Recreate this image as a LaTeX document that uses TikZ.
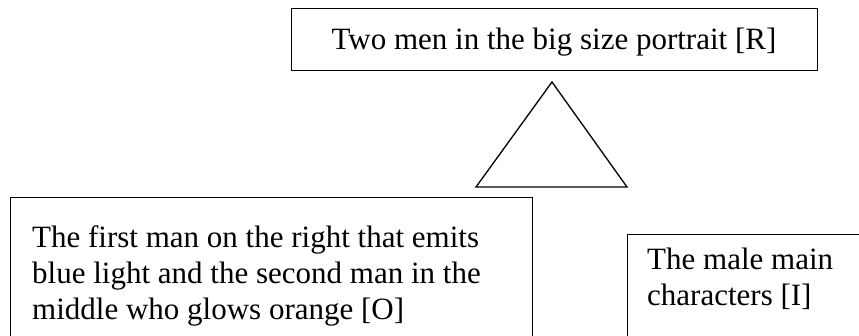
\documentclass[tikz,border=0pt]{standalone}
\usepackage{fontspec}
\setmainfont{Liberation Serif}
\begin{document}
\begin{tikzpicture}[x=1pt,y=-1pt,
  box/.style={draw, line width=1.4pt, inner sep=0pt, anchor=north west},
  txt/.style={anchor=base west, inner sep=0pt, font=\fontsize{31}{36}\selectfont},
  tri/.style={draw, line width=1.3pt, line join=miter}]
\useasboundingbox (0,0) rectangle (859,336);
\clip (0,0) rectangle (859,336);
% boxes
\node[box, minimum width=526pt, minimum height=62pt] (topbox) at (291,8) {};
\node[box, minimum width=522pt, minimum height=200pt] (leftbox) at (10,197) {};
\node[box, minimum width=253pt, minimum height=200pt] (rightbox) at (627,234) {};
% triangle
\coordinate (apex) at (552,82);
\coordinate (bl) at (476,187);
\coordinate (br) at (627,187);
\draw[tri] (apex) -- (bl) -- (br) -- cycle;
% texts
\node[txt, anchor=base] (t1) at (554,50) {Two men in the big size portrait [R]};
\node[txt] (l1) at (32,248) {The first man on the right that emits};
\node[txt] (l2) at (32,284) {blue light and the second man in the};
\node[txt] (l3) at (32,320) {middle who glows orange [O]};
\node[txt] (r1) at (647,270) {The male main};
\node[txt] (r2) at (647,306) {characters [I]};
\end{tikzpicture}
\end{document}
